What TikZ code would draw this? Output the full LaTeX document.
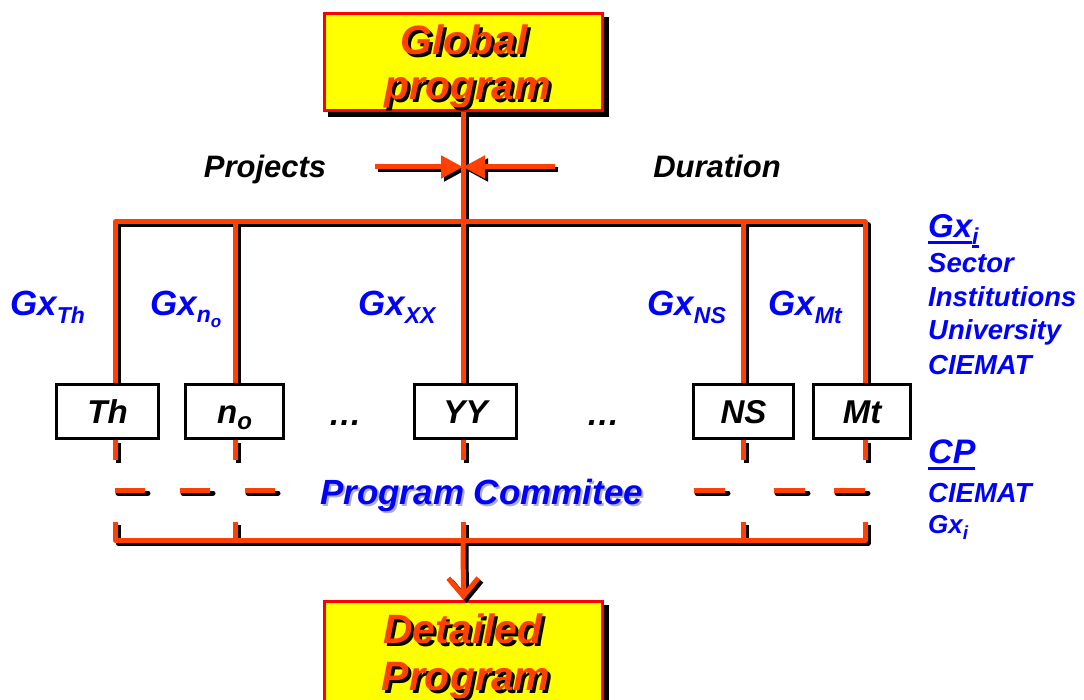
\documentclass[tikz,border=0pt]{standalone}
\usepackage{fontspec}
\setmainfont{Liberation Sans}
\usetikzlibrary{arrows.meta,calc}
\definecolor{ored}{RGB}{255,64,0}
\definecolor{bblue}{RGB}{0,0,255}
\definecolor{yel}{RGB}{255,255,0}
\definecolor{bred}{RGB}{255,0,0}
\newcommand\fs[1]{\fontsize{#1}{#1}\selectfont}
\newcommand\myul[2]{\setbox0\hbox{#1}\rlap{\rule[#2]{\wd0}{3pt}}\box0}
\begin{document}
\begin{tikzpicture}[x=1pt,y=-1pt,
  ln/.style={draw=ored,line width=5pt,line join=round},
  sh/.style={draw=black,line width=5pt,line join=round,transform canvas={xshift=3pt,yshift=-3pt}},
  bigbox/.style={draw=bred,line width=3pt,fill=yel,minimum width=278pt,minimum height=97pt,inner sep=0pt},
  bigshadow/.style={fill=black,minimum width=281pt,minimum height=100pt,inner sep=0pt},
  bt/.style={font=\fs{41}\bfseries\itshape,anchor=base,inner sep=0pt},
  cbox/.style={draw=black,line width=3pt,fill=white,minimum height=54pt,inner sep=0pt,text height=24pt,text depth=0pt,font=\fs{33}\bfseries\itshape},
  blab/.style={font=\fs{35}\bfseries\itshape,text=bblue,anchor=base west,inner sep=0pt},
  rlab/.style={font=\fs{27.5}\bfseries\itshape,text=bblue,anchor=base west,inner sep=0pt},
  klab/.style={font=\fs{31}\bfseries\itshape,anchor=base,inner sep=0pt},
]
\useasboundingbox (0,0) rectangle (1084,700);
\clip (0,0) rectangle (1084,700);

% ---------- Global program box
\node[bigshadow] (gpS) at (468.5,67) {};
\node[bigbox] (gp) at (463.5,62) {};
\node[bt,text=black] (g1s) at (467,58) {Global};
\node[bt,text=ored] (g1) at (464,55) {Global};
\node[bt,text=black] (g2s) at (471,103) {program};
\node[bt,text=ored] (g2) at (468,100) {program};

% ---------- chart boxes
\node[cbox,minimum width=102pt] (th) at (107.5,411.5) {Th};
\node[cbox,minimum width=98pt] (no) at (234.5,411.5) {n\raisebox{-6pt}{\fs{24}o}};
\node[cbox,minimum width=102pt] (yy) at (465.5,411.5) {YY};
\node[cbox,minimum width=100pt] (ns) at (743.5,411.5) {NS};
\node[cbox,minimum width=97pt] (mt) at (862,411.5) {Mt};

% ---------- Detailed program box
\node[bigshadow,minimum height=113pt] (detS) at (468.5,661.5) {};
\node[bigbox,minimum height=110pt] (det) at (463.5,656.5) {};
\node[bt,text=black] (d1s) at (466,646) {Detailed};
\node[bt,text=ored] (d1) at (463,643) {Detailed};
\node[bt,text=black] (d2s) at (469,693) {Program};
\node[bt,text=ored] (d2) at (466,690) {Program};

% ---------- coordinates
\coordinate (tL) at (115,222);
\coordinate (tR) at (865,222);
\coordinate (x2) at (235,222);
\coordinate (x4) at (743,222);
\coordinate (mid) at (463,167);
\coordinate (pa) at (375,167);
\coordinate (da) at (555,167);
\coordinate (bL) at (115,522);
\coordinate (bR) at (865,522);
\coordinate (bC) at (463,540);
\coordinate (dL) at (115,490);
\coordinate (dR) at (694,490);

% ---------- shadows of connectors
\begin{scope}[sh]
\draw (gp.south -| mid) -- (mid |- yy.north);
\draw (tL |- th.north) -- (tL) -- (tR) -- (tR |- mt.north);
\draw (x2) -- (x2 |- no.north);
\draw (x4) -- (x4 |- ns.north);
\foreach \c/\b in {tL/th,x2/no,mid/yy,x4/ns,tR/mt}{
  \draw (\c |- \b.south) -- ++(0,20);
  \draw (\c |- bL) -- ++(0,18);
}
\draw (bL) -- (bL |- bC) -- (bR |- bC) -- (bR);
\draw[line cap=round] (dL) -- ++(30,0) ++(35,0) -- ++(30,0) ++(35,0) -- ++(30,0);
\draw[line cap=round] (dR) -- ++(31,0) ++(49,0) -- ++(31,0) ++(29,0) -- ++(31,0);
\draw[-{Straight Barb[length=18pt,width=30pt]}] (bC) -- (det.north);
\draw[-{Triangle[length=22pt,width=22pt]}] (pa) -- (mid);
\draw[-{Triangle[length=22pt,width=22pt]}] (da) -- (mid);
\end{scope}

% ---------- connectors
\begin{scope}[ln]
\draw (gp.south -| mid) -- (mid |- yy.north);
\draw (tL |- th.north) -- (tL) -- (tR) -- (tR |- mt.north);
\draw (x2) -- (x2 |- no.north);
\draw (x4) -- (x4 |- ns.north);
\foreach \c/\b in {tL/th,x2/no,mid/yy,x4/ns,tR/mt}{
  \draw (\c |- \b.south) -- ++(0,20);
  \draw (\c |- bL) -- ++(0,18);
}
\draw (bL) -- (bL |- bC) -- (bR |- bC) -- (bR);
\draw (dL) -- ++(30,0) ++(35,0) -- ++(30,0) ++(35,0) -- ++(30,0);
\draw (dR) -- ++(31,0) ++(49,0) -- ++(31,0) ++(29,0) -- ++(31,0);
\draw[-{Straight Barb[length=18pt,width=30pt]}] (bC) -- (det.north);
\draw[-{Triangle[length=22pt,width=22pt]}] (pa) -- (mid);
\draw[-{Triangle[length=22pt,width=22pt]}] (da) -- (mid);
\end{scope}

% redraw boxes on top of line ends
\node[cbox,minimum width=102pt] (th2) at (th) {Th};
\node[cbox,minimum width=98pt] (no2) at (no) {n\raisebox{-6pt}{\fs{24}o}};
\node[cbox,minimum width=102pt] (yy2) at (yy) {YY};
\node[cbox,minimum width=100pt] (ns2) at (ns) {NS};
\node[cbox,minimum width=97pt] (mt2) at (mt) {Mt};

% ---------- labels
\node[klab] (proj) at (265,178) {Projects};
\node[klab] (dur) at (717,178) {Duration};
\node[klab,font=\fs{33}\bfseries\itshape] (dots1) at (345,425) {…};
\node[klab,font=\fs{33}\bfseries\itshape] (dots2) at (603,425) {…};

\node[blab] (gth) at (10,316) {Gx\raisebox{-8pt}{\fs{23}Th}};
\node[blab] (gno) at (150,316) {Gx\raisebox{-7pt}{\fs{23}n\raisebox{-5pt}{\fs{17}o}}};
\node[blab] (gxx) at (358,316) {Gx\raisebox{-8pt}{\fs{23}XX}};
\node[blab] (gns) at (647,316) {Gx\raisebox{-8pt}{\fs{23}NS}};
\node[blab] (gmt) at (768,316) {Gx\raisebox{-8pt}{\fs{23}Mt}};

\node[rlab,font=\fs{33}\bfseries\itshape] (gxi) at (928,238) {\myul{Gx}{-6pt}\raisebox{-7pt}{\fs{23}\myul{i}{-3pt}}};
\node[rlab] (sec) at (928,273) {Sector};
\node[rlab] (ins) at (928,307) {Institutions};
\node[rlab] (uni) at (928,340) {University};
\node[rlab] (cie) at (928,374) {CIEMAT};

\node[rlab,font=\fs{34}\bfseries\itshape] (cp) at (928,463) {\myul{CP}{-7pt}};
\node[rlab] (cie2) at (928,502) {CIEMAT};
\node[rlab,font=\fs{26}\bfseries\itshape] (gxi2) at (928,533) {Gx\raisebox{-6pt}{\fs{19}i}};

\node[font=\fs{35}\bfseries\itshape,text=black!30,anchor=base west,inner sep=0pt] (pcS) at (322,506) {Program Commitee};
\node[font=\fs{35}\bfseries\itshape,text=bblue,anchor=base west,inner sep=0pt] (pc) at (320,504) {Program Commitee};
\end{tikzpicture}
\end{document}
